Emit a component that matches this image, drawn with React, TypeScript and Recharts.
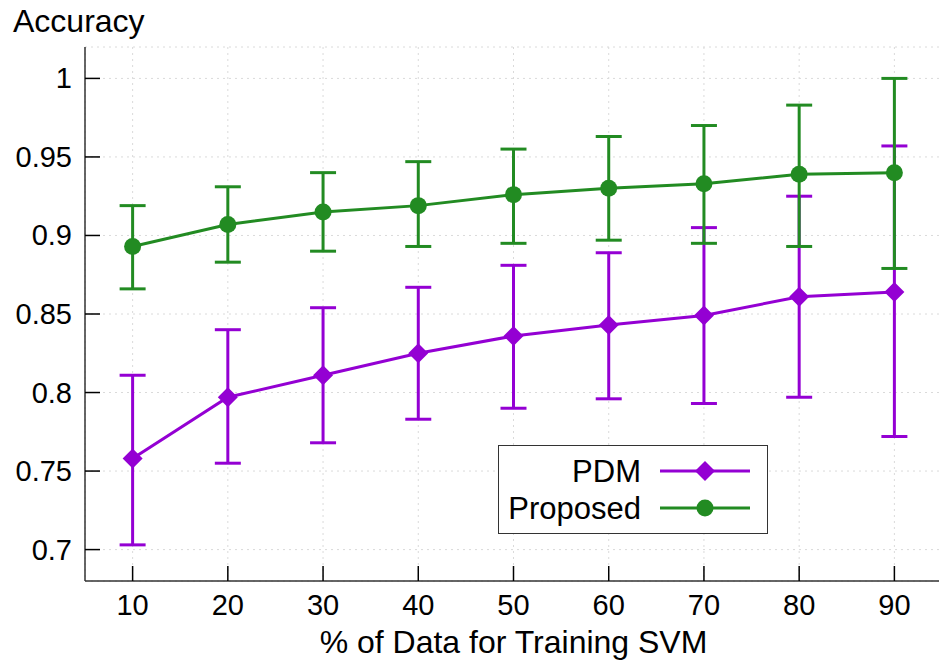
import {
  CartesianGrid,
  ComposedChart,
  ErrorBar,
  Legend,
  Line,
  XAxis,
  YAxis,
} from 'recharts'

// % of data used to train the SVM
const trainingPct = [10, 20, 30, 40, 50, 60, 70, 80, 90]

// PDM: mean accuracy and error-bar bounds
const pdmMean = [0.758, 0.797, 0.811, 0.825, 0.836, 0.843, 0.849, 0.861, 0.864]
const pdmLow = [0.703, 0.755, 0.768, 0.783, 0.79, 0.796, 0.793, 0.797, 0.772]
const pdmHigh = [0.811, 0.84, 0.854, 0.867, 0.881, 0.889, 0.905, 0.925, 0.957]

// Proposed: mean accuracy and error-bar bounds
const proposedMean = [0.893, 0.907, 0.915, 0.919, 0.926, 0.93, 0.933, 0.939, 0.94]
const proposedLow = [0.866, 0.883, 0.89, 0.893, 0.895, 0.897, 0.895, 0.893, 0.879]
const proposedHigh = [0.919, 0.931, 0.94, 0.947, 0.955, 0.963, 0.97, 0.983, 1.0]

const xTicks = [10, 20, 30, 40, 50, 60, 70, 80, 90]
const yTicks = [0.7, 0.75, 0.8, 0.85, 0.9, 0.95, 1]

const PURPLE = '#9400d3'
const GREEN = '#228b22'
const FONT = '"Liberation Sans", Arial, sans-serif'
const TICK_LEN = 15

const data = trainingPct.map((pct, i) => ({
  pct,
  pdm: pdmMean[i],
  pdmErr: [pdmMean[i] - pdmLow[i], pdmHigh[i] - pdmMean[i]],
  proposed: proposedMean[i],
  proposedErr: [proposedMean[i] - proposedLow[i], proposedHigh[i] - proposedMean[i]],
}))

function LeftTick({ x, y, payload }: any) {
  return (
    <g>
      <line x1={x} y1={y} x2={x + TICK_LEN} y2={y} stroke="#000" strokeWidth={1.5} />
      <text x={x - 13} y={y + 10} textAnchor="end" fontSize={29} fill="#000" fontFamily={FONT}>
        {String(payload.value)}
      </text>
    </g>
  )
}

function RightTick({ x, y }: any) {
  return <line x1={x} y1={y} x2={x - TICK_LEN} y2={y} stroke="#000" strokeWidth={1.5} />
}

function BottomTick({ x, y, payload }: any) {
  return (
    <g>
      <line x1={x} y1={y} x2={x} y2={y - TICK_LEN} stroke="#000" strokeWidth={1.5} />
      <text x={x} y={y + 34} textAnchor="middle" fontSize={29} fill="#000" fontFamily={FONT}>
        {String(payload.value)}
      </text>
    </g>
  )
}

function TopTick({ x, y }: any) {
  return <line x1={x} y1={y} x2={x} y2={y + TICK_LEN} stroke="#000" strokeWidth={1.5} />
}

function Diamond({ cx, cy, fill, size = 10 }: any) {
  if (cx == null || cy == null) return null
  return (
    <path
      d={`M${cx},${cy - size} L${cx + size},${cy} L${cx},${cy + size} L${cx - size},${cy} Z`}
      fill={fill}
    />
  )
}

function LegendBox({ payload }: any) {
  const items = payload ?? []
  return (
    <div
      style={{
        width: 270,
        height: 89,
        boxSizing: 'border-box',
        border: '1.5px solid #333',
        background: '#fff',
      }}
    >
      <svg width={267} height={86} style={{ display: 'block' }}>
        {items.map((entry: any, i: number) => {
          const cy = 25 + i * 37
          return (
            <g key={entry.value}>
              <text x={142} y={cy + 11} textAnchor="end" fontSize={31} fill="#000" fontFamily={FONT}>
                {entry.value}
              </text>
              <line x1={161} x2={251} y1={cy} y2={cy} stroke={entry.color} strokeWidth={3} />
              {entry.dataKey === 'pdm' ? (
                <Diamond cx={206} cy={cy} fill={entry.color} />
              ) : (
                <circle cx={206} cy={cy} r={8.5} fill={entry.color} />
              )}
            </g>
          )
        })}
      </svg>
    </div>
  )
}

export default function App() {
  return (
    <div
      style={{
        position: 'absolute',
        left: 0,
        top: 0,
        width: 939,
        height: 661,
        overflow: 'hidden',
        background: '#fff',
        fontFamily: FONT,
      }}
    >
      <ComposedChart
        width={950}
        height={661}
        data={data}
        margin={{ top: 47, right: 8, bottom: 0, left: 0 }}
      >
        <CartesianGrid stroke="#dadada" strokeDasharray="2 4" />
        <XAxis
          dataKey="pct"
          type="number"
          domain={[5, 95]}
          ticks={xTicks}
          height={80}
          tickSize={0}
          tickMargin={0}
          tickLine={false}
          tick={<BottomTick />}
          axisLine={{ stroke: '#333', strokeWidth: 1.5 }}
          label={{
            content: ({ viewBox }: any) => (
              <text
                x={viewBox.x + viewBox.width / 2}
                y={viewBox.y + 72}
                textAnchor="middle"
                fontSize={32}
                fill="#000"
                fontFamily={FONT}
              >
                % of Data for Training SVM
              </text>
            ),
          }}
        />
        <XAxis
          xAxisId="top"
          orientation="top"
          type="number"
          domain={[5, 95]}
          ticks={xTicks}
          height={0}
          tickSize={0}
          tickMargin={0}
          tickLine={false}
          tick={<TopTick />}
          axisLine={{ stroke: '#333', strokeWidth: 1.5 }}
        />
        <YAxis
          type="number"
          domain={[0.68, 1.02]}
          ticks={yTicks}
          width={85}
          tickSize={0}
          tickMargin={0}
          tickLine={false}
          tick={<LeftTick />}
          axisLine={{ stroke: '#333', strokeWidth: 1.5 }}
          label={{
            content: ({ viewBox }: any) => (
              <text x={13} y={viewBox.y - 15} fontSize={32} fill="#000" fontFamily={FONT}>
                Accuracy
              </text>
            ),
          }}
        />
        <YAxis
          yAxisId="right"
          orientation="right"
          type="number"
          domain={[0.68, 1.02]}
          ticks={yTicks}
          width={0}
          tickSize={0}
          tickMargin={0}
          tickLine={false}
          tick={<RightTick />}
          axisLine={{ stroke: '#333', strokeWidth: 1.5 }}
        />
        <Legend
          layout="vertical"
          align="center"
          verticalAlign="middle"
          content={<LegendBox />}
          wrapperStyle={{ position: 'absolute', left: 498, top: 445, width: 270, height: 89 }}
        />
        <Line
          dataKey="pdm"
          name="PDM"
          stroke={PURPLE}
          strokeWidth={3}
          isAnimationActive={false}
          dot={(p: any) => <Diamond key={`pdm-${p.index}`} cx={p.cx} cy={p.cy} fill={PURPLE} />}
          activeDot={false}
        >
          <ErrorBar
            dataKey="pdmErr"
            direction="y"
            width={13}
            stroke={PURPLE}
            strokeWidth={3}
            isAnimationActive={false}
          />
        </Line>
        <Line
          dataKey="proposed"
          name="Proposed"
          stroke={GREEN}
          strokeWidth={3}
          isAnimationActive={false}
          dot={(p: any) => (
            <circle key={`prop-${p.index}`} cx={p.cx} cy={p.cy} r={8.5} fill={GREEN} />
          )}
          activeDot={false}
        >
          <ErrorBar
            dataKey="proposedErr"
            direction="y"
            width={13}
            stroke={GREEN}
            strokeWidth={3}
            isAnimationActive={false}
          />
        </Line>
      </ComposedChart>
    </div>
  )
}
